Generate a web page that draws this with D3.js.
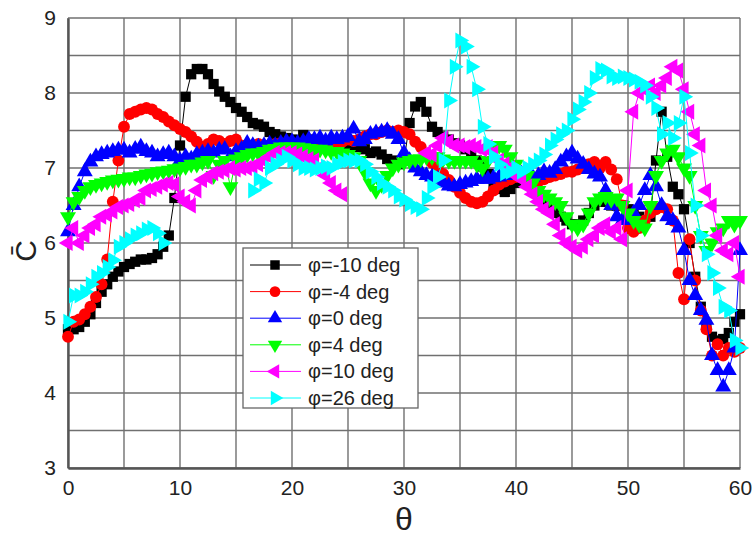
<!DOCTYPE html>
<html>
<head>
<meta charset="utf-8">
<script src="https://cdn.jsdelivr.net/npm/d3@7/dist/d3.min.js"></script>
<style>
  body { margin: 0; background: #fff; }
  text { font-family: "Liberation Sans", Arial, sans-serif; fill: #222; }
</style>
</head>
<body>
<div id="chart"></div>
<script>
// theta values (deg)
var theta = [
  0, 0.5, 1, 1.5, 2, 2.5, 3, 3.5, 4, 4.5, 5, 5.5, 6, 6.5, 7, 7.5, 8, 8.5, 9, 9.5,
  10, 10.5, 11, 11.5, 12, 12.5, 13, 13.5, 14, 14.5, 15, 15.5, 16, 16.5, 17, 17.5, 18, 18.5, 19, 19.5,
  20, 20.5, 21, 21.5, 22, 22.5, 23, 23.5, 24, 24.5, 25, 25.5, 26, 26.5, 27, 27.5, 28, 28.5, 29, 29.5,
  30, 30.5, 31, 31.5, 32, 32.5, 33, 33.5, 34, 34.5, 35, 35.5, 36, 36.5, 37, 37.5, 38, 38.5, 39, 39.5,
  40, 40.5, 41, 41.5, 42, 42.5, 43, 43.5, 44, 44.5, 45, 45.5, 46, 46.5, 47, 47.5, 48, 48.5, 49, 49.5,
  50, 50.5, 51, 51.5, 52, 52.5, 53, 53.5, 54, 54.5, 55, 55.5, 56, 56.5, 57, 57.5, 58, 58.5, 59, 59.5,
  60
];

// C-bar for each phi (null = not shown in the figure)
var phiM10 = [
  4.85, 4.85, 4.88, 4.95, 5.05, 5.2, 5.35, 5.45, 5.55, 5.62, 5.68, 5.72, 5.75, 5.78, 5.78, 5.8, 5.85, 5.95, 6.1, 6.6,
  7.3, 7.95, 8.25, 8.32, 8.32, 8.25, 8.12, 8.02, 7.95, 7.88, 7.8, 7.75, 7.68, 7.6, 7.58, 7.55, 7.48, 7.45, 7.42, 7.4,
  7.38, 7.37, 7.44, 7.38, 7.36, 7.35, 7.33, 7.32, 7.3, 7.28, 7.3, 7.3, 7.28, 7.25, 7.2, 7.22, 7.18, 7.12, 7.1, 7.05,
  7.1, 7.6, 7.82, 7.88, 7.75, 7.55, 7.48, 7.42, 7.38, 7.33, 7.3, 7.25, 7.18, 7.1, 7.02, 6.92, 6.8, 6.72, 6.68, 6.72,
  6.8, 6.85, 6.8, 6.7, 6.6, 6.52, 6.45, 6.4, 6.35, 6.3, 6.25, 6.25, 6.3, 6.4, 6.5, 6.55, 6.55, 6.5, 6.5, 6.5,
  6.45, 6.4, 6.35, 6.3, 6.35, 7.1, 7.75, 7.15, 6.75, 6.65, 6.45, 6.0, 5.55, 5.15, 4.9, 4.75, 4.7, 4.72, 4.8, 4.95,
  5.05
];
var phiM4 = [
  4.75, 4.95, 4.98, 5.05, 5.15, 5.28, 5.45, 5.78, 6.55, 7.1, 7.55, 7.72, 7.75, 7.78, 7.8, 7.78, 7.72, 7.68, 7.62, 7.57,
  7.52, 7.48, 7.42, 7.35, 7.28, 7.32, 7.38, 7.36, 7.32, 7.36, 7.38, 7.3, 7.28, 7.3, 7.32, 7.3, 7.3, 7.32, 7.33, 7.32,
  7.3, 7.3, 7.28, 7.3, 7.33, 7.32, 7.3, 7.3, 7.32, 7.35, 7.38, 7.36, 7.38, 7.42, 7.45, 7.45, 7.48, 7.5, 7.48, 7.5,
  7.48, 7.45, 7.35, 7.28, 7.18, 7.07, 7.0, 6.92, 6.84, 6.75, 6.67, 6.6, 6.55, 6.53, 6.55, 6.62, 6.7, 6.78, 6.82, 6.85,
  6.88, 6.9, 6.88, 6.85, 6.82, 6.85, 6.88, 6.9, 6.92, 6.95, 6.95, 6.98, 7.0, 7.05, 7.08, 7.0, 7.08, 6.98, 6.85, 6.5,
  6.2, 6.15, 6.2, 6.3, 6.4, 6.45, 6.48, 6.45, 6.3, 5.6, 5.25, 6.05, 5.5, 5.1, 4.85, 4.5, 4.65, 4.5, 4.6, 4.55,
  4.6
];
var phi0 = [
  6.15, 6.5, 6.75, 6.95, 7.08, 7.15, 7.18, 7.2, 7.22, 7.24, 7.24, 7.2, 7.25, 7.28, 7.22, 7.2, 7.15, 7.18, 7.2, 7.15,
  7.1, 7.15, 7.12, 7.18, 7.2, 7.22, 7.2, 7.24, 7.25, 7.15, 7.22, 7.25, 7.33, 7.3, 7.28, 7.3, 7.32, 7.3, 7.33, 7.35,
  7.35, 7.33, 7.35, 7.38, 7.38, 7.4, 7.36, 7.4, 7.38, 7.4, 7.42, 7.52, 7.35, 7.38, 7.45, 7.47, 7.48, 7.5, 7.45, 7.38,
  7.2, 7.1, 7.0, 6.95, 6.9, 6.88, 6.85, 6.8, 6.76, 6.75, 6.78, 6.8, 6.82, 6.85, 6.85, 6.85, 6.87, 6.88, 6.9, 6.9,
  6.9, 6.92, 6.9, 6.88, 6.9, 6.95, 6.93, 6.98, 7.08, 7.15, 7.2, 7.12, 7.05, 6.98, 6.92, 6.88, 6.7, 6.5, 6.35, 6.3,
  6.3, 6.4, 6.5, 6.7, 6.9, 6.75, 6.5, 6.35, 6.3, 6.2, 5.9, 5.5, 5.3, 5.1, 4.97, 4.5, 4.3, 4.08, 4.3, 4.6,
  5.9
];
var phi4 = [
  6.35, 6.55, 6.62, 6.7, 6.75, 6.78, 6.8, 6.82, 6.84, 6.85, 6.86, 6.88, 6.88, 6.9, 6.92, 6.93, 6.95, 6.96, 6.97, 6.99,
  7.0, 7.02, 7.05, 7.05, 7.08, 7.1, 6.9, 7.05, 7.1, 6.75, 7.12, 7.15, 7.18, 7.2, 7.2, 7.22, 7.25, 7.26, 7.28, 7.28,
  7.28, 7.28, 7.27, 7.26, 7.25, 7.25, 7.24, 7.22, 7.22, 7.2, 7.18, 7.15, 7.1, 6.95, 6.8, 6.7, 6.78, 6.9, 7.0, 7.05,
  7.08, 7.1, 7.12, 7.12, 7.15, 7.15, 7.15, 7.12, 7.1, 7.1, 7.1, 7.1, 7.1, 7.05, 7.0, 7.1, 7.25, 7.3, 7.25, 7.15,
  7.05, 6.95, 6.9, 6.8, 6.7, 6.65, 6.6, 6.55, 6.5, 6.35, 6.25, 6.2, 6.25, 6.4, 6.55, 6.6, 6.62, 6.58, 6.6, 6.5,
  6.4, 6.3, 6.25, 6.2, 6.5, 6.9, 7.1, 7.2, 7.25, 7.15, 7.0, 6.9, 6.5, 6.1, 5.9, 6.0, 6.15, 6.2, 6.3, 6.25,
  6.3
];
var phi10 = [
  6.0, 6.2, 6.0, 6.1, 6.2, 6.25, 6.35, 6.38, 6.42, 6.48, 6.5, 6.52, 6.57, 6.6, 6.7, 6.72, 6.75, 6.78, 6.8, 6.78,
  6.62, 6.55, 6.5, 6.7, 6.84, 6.88, 6.93, 6.95, 6.97, 7.0, 6.98, 7.0, 7.0, 7.02, 7.05, 7.1, 7.15, 7.2, 7.2, 7.2,
  7.2, 7.18, 7.15, 7.12, 7.1, 7.0, 6.9, 6.8, 6.7, 6.65, null, null, null, null, null, null, null, null, null, null,
  null, null, null, null, 7.2, 7.18, 7.3, 7.4, 7.35, 7.3, 7.3, 7.28, 7.3, 7.28, 7.25, 7.28, 7.2, 7.1, 7.05, 7.0,
  6.9, 6.85, 6.75, 6.65, 6.55, 6.45, 6.4, 6.25, 6.1, 6.0, 5.95, 5.9, 5.95, 6.05, 6.1, 6.2, 6.25, 6.15, 6.2, 6.05,
  6.7, 7.75, 8.0, 8.05, 8.1, 8.0, 8.1, 8.2, 8.35, 8.3, 8.05, 7.75, 7.45, 7.3, 6.7, 6.5, 6.1, 5.9, 5.85, 6.0,
  5.55
];
var phi26 = [
  4.95, 5.3, 5.3, 5.35, 5.45, 5.55, 5.6, 5.68, 5.77, 5.95, 6.0, 6.05, 6.1, 6.13, 6.18, 6.2, 6.13, 6.0, null, null,
  null, null, null, null, null, null, null, null, null, null, null, null, null, 6.7, 6.85, 6.8, 7.0, 7.05, 7.1, 7.15,
  7.1, 7.05, 7.0, 7.0, 6.98, 7.0, 7.02, 7.0, 7.05, 7.08, 7.1, 7.1, 7.1, 7.05, 6.95, 6.88, 6.8, 6.75, 6.7, 6.62,
  6.58, 6.52, 6.48, 6.45, 6.6, 6.75, 6.88, 7.1, 7.9, 8.35, 8.7, 8.62, 8.35, 8.05, 7.55, 7.32, 7.15, 7.05, 6.93, 6.95,
  7.0, 6.95, 7.0, 7.05, 7.1, 7.18, 7.3, 7.38, 7.45, 7.5, 7.65, 7.78, 7.88, 8.0, 8.2, 8.32, 8.3, 8.22, 8.2, 8.22,
  8.2, 8.18, 8.15, 8.1, 7.95, 7.8, 7.45, 7.6, 7.4, 7.6, 7.95, 7.2, 6.5, 6.1, 5.85, 5.6, 5.4, 5.15, 5.1, 4.7,
  4.6
];

var seriesLabels = ["\u03c6=-10 deg", "\u03c6=-4 deg", "\u03c6=0 deg", "\u03c6=4 deg", "\u03c6=10 deg", "\u03c6=26 deg"];
var seriesColors = ["#000000", "#ff0000", "#0000ff", "#00ff00", "#ff00ff", "#00ffff"];
var xTicks = [0, 10, 20, 30, 40, 50, 60];
var yTicks = [3, 4, 5, 6, 7, 8, 9];

var svgWidth = 756;
var svgHeight = 537;
var margin = { top: 18, right: 16, bottom: 69, left: 68 };
var width = svgWidth - margin.left - margin.right;
var height = svgHeight - margin.top - margin.bottom;

var svg = d3.select("#chart").append("svg")
    .attr("width", svgWidth)
    .attr("height", svgHeight);
var chart = svg.append("g")
    .attr("transform", "translate(" + margin.left + "," + margin.top + ")");

var xScale = d3.scaleLinear().domain([0, 60]).range([0, width]);
var yScale = d3.scaleLinear().domain([3, 9]).range([height, 0]);

// grid
chart.append("g").selectAll("line")
    .data(d3.range(0, 60.1, 5))
    .enter().append("line")
    .attr("x1", function (d) { return xScale(d); })
    .attr("x2", function (d) { return xScale(d); })
    .attr("y1", 0).attr("y2", height)
    .attr("stroke", "#707070").attr("stroke-width", 1.4);
chart.append("g").selectAll("line")
    .data(d3.range(3, 9.01, 0.5))
    .enter().append("line")
    .attr("x1", 0).attr("x2", width)
    .attr("y1", function (d) { return yScale(d); })
    .attr("y2", function (d) { return yScale(d); })
    .attr("stroke", "#707070").attr("stroke-width", 1.4);

// axes
var bottomAxis = d3.axisBottom(xScale).tickValues(xTicks).tickSize(0).tickPadding(12).tickFormat(d3.format("d"));
var leftAxis = d3.axisLeft(yScale).tickValues(yTicks).tickSize(0).tickPadding(12).tickFormat(d3.format("d"));
var gx = chart.append("g").attr("transform", "translate(0," + height + ")").call(bottomAxis);
var gy = chart.append("g").call(leftAxis);
[gx, gy].forEach(function (g) {
    g.select(".domain").attr("stroke", "#555").attr("stroke-width", 2.4);
    g.selectAll("text").style("font-size", "21px").attr("fill", "#222")
        .style("font-family", "'Liberation Sans', Arial, sans-serif");
});

// series
var symbols = [
    { type: d3.symbolSquare, size: 105, rot: 0 },
    { type: d3.symbolCircle, size: 110, rot: 0 },
    { type: d3.symbolTriangle, size: 110, rot: 0 },
    { type: d3.symbolTriangle, size: 110, rot: 180 },
    { type: d3.symbolTriangle, size: 110, rot: -90 },
    { type: d3.symbolTriangle, size: 110, rot: 90 }
];
var allSeries = [phiM10, phiM4, phi0, phi4, phi10, phi26];

var line = d3.line()
    .defined(function (d) { return d[1] != null; })
    .x(function (d) { return xScale(d[0]); })
    .y(function (d) { return yScale(d[1]); });

allSeries.forEach(function (vals, i) {
    var pts = theta.map(function (t, j) { return [t, vals[j]]; });
    var g = chart.append("g");
    g.append("path")
        .datum(pts)
        .attr("d", line)
        .attr("fill", "none")
        .attr("stroke", seriesColors[i])
        .attr("stroke-width", 1);
    g.selectAll("path.mk")
        .data(pts.filter(function (d) { return d[1] != null; }))
        .enter().append("path")
        .attr("class", "mk")
        .attr("d", d3.symbol().type(symbols[i].type).size(symbols[i].size))
        .attr("transform", function (d) {
            return "translate(" + xScale(d[0]) + "," + yScale(d[1]) + ") rotate(" + symbols[i].rot + ")";
        })
        .attr("fill", seriesColors[i]);
});

// legend
var legend = svg.append("g").attr("transform", "translate(243,248)");
legend.append("rect")
    .attr("width", 175).attr("height", 160)
    .attr("fill", "#fff").attr("stroke", "#666").attr("stroke-width", 1.3);
seriesLabels.forEach(function (lab, i) {
    var y = 17 + i * 26.6;
    var row = legend.append("g").attr("transform", "translate(0," + y + ")");
    row.append("line").attr("x1", 7).attr("x2", 58).attr("y1", 0).attr("y2", 0)
        .attr("stroke", seriesColors[i]).attr("stroke-width", 1);
    row.append("path")
        .attr("d", d3.symbol().type(symbols[i].type).size(90))
        .attr("transform", "translate(32,0) rotate(" + symbols[i].rot + ")")
        .attr("fill", seriesColors[i]);
    row.append("text").attr("x", 65).attr("y", 7)
        .style("font-size", "20px").text(lab);
});

// axis titles
svg.append("text")
    .attr("x", margin.left + width / 2).attr("y", 530)
    .attr("text-anchor", "middle")
    .style("font-size", "32px")
    .text("\u03b8");
svg.append("text")
    .attr("transform", "translate(36," + (margin.top + height / 2 + 8) + ") rotate(-90)")
    .attr("text-anchor", "middle")
    .style("font-size", "30px")
    .text("C\u0304");
</script>
</body>
</html>
